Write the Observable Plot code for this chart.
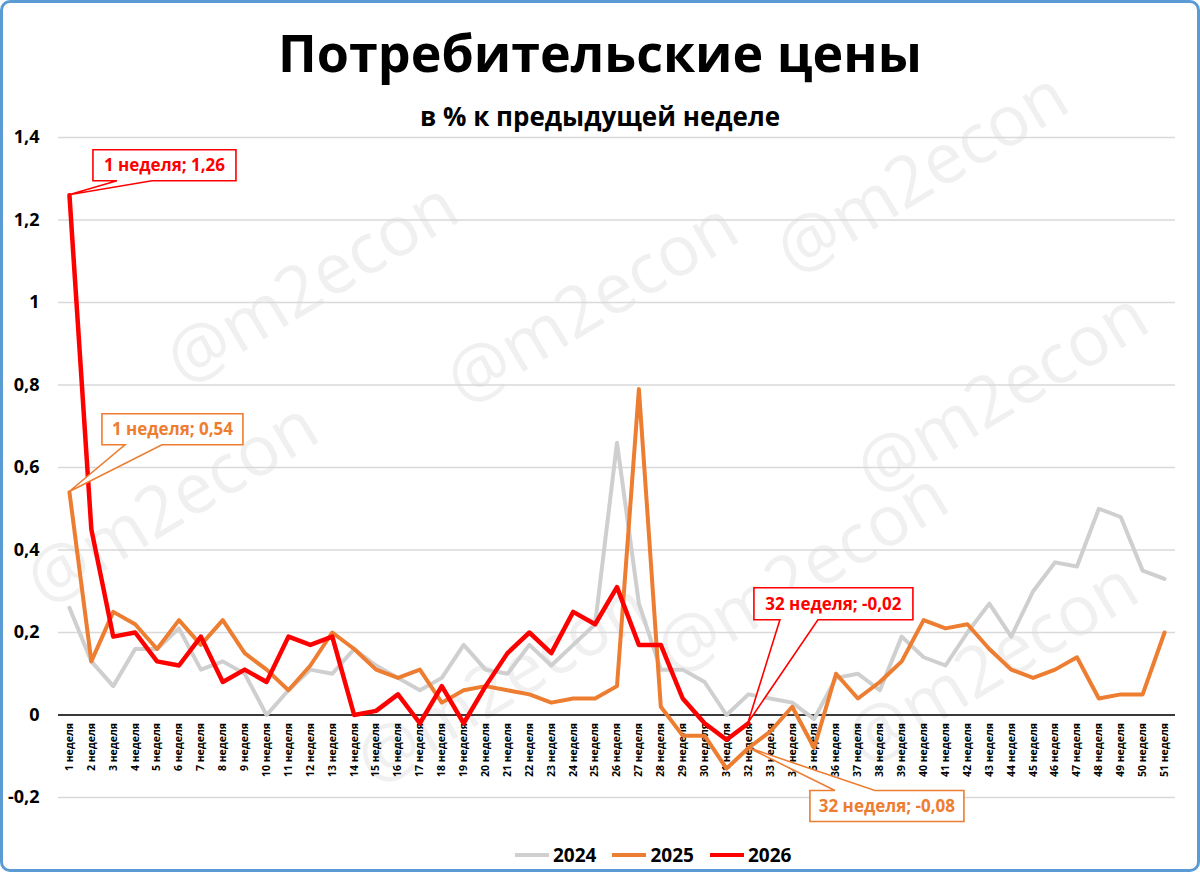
<!DOCTYPE html>
<html><head><meta charset="utf-8">
<script src="https://cdn.jsdelivr.net/npm/d3@7"></script>
<script src="https://cdn.jsdelivr.net/npm/@observablehq/plot@0.6"></script>
<style>
html,body{margin:0;padding:0;background:#fff;}
#wrap{position:relative;width:1200px;height:872px;overflow:hidden;background:#fff;font-family:"Open Sans",sans-serif;}
.wm{position:absolute;font-family:"Open Sans",sans-serif;font-size:70px;color:#f0f0f0;transform:translate(-50%,-50%) rotate(-31deg);white-space:nowrap;line-height:1;}
#title{position:absolute;left:0;width:1200px;top:26px;text-align:center;font-weight:700;font-size:52px;line-height:52px;color:#000;}
#subtitle{position:absolute;left:0;width:1200px;top:103px;text-align:center;font-weight:700;font-size:26px;line-height:26px;color:#000;}
#chart{position:absolute;left:0;top:95px;}
#legend{position:absolute;top:842px;left:515px;display:flex;align-items:center;font-weight:700;font-size:19px;line-height:26px;color:#000;}
#legend .item{display:flex;align-items:center;margin-right:16px;}
#legend .sw{width:34px;height:4px;margin-right:4px;}
#frame{position:absolute;left:0;top:0;width:1200px;height:872px;box-sizing:border-box;border:3px solid #5B9BD5;border-radius:10px;pointer-events:none;}
</style>
</head>
<body>
<div id="wrap">
  <div id="wms"></div>
  <div id="title">Потребительские цены</div>
  <div id="subtitle">в % к предыдущей неделе</div>
  <div id="chart"></div>
  <div id="legend"></div>
  <div id="frame"></div>
</div>
<script>
const weeks = ["1 неделя","2 неделя","3 неделя","4 неделя","5 неделя","6 неделя","7 неделя","8 неделя","9 неделя","10 неделя",
"11 неделя","12 неделя","13 неделя","14 неделя","15 неделя","16 неделя","17 неделя","18 неделя","19 неделя","20 неделя",
"21 неделя","22 неделя","23 неделя","24 неделя","25 неделя","26 неделя","27 неделя","28 неделя","29 неделя","30 неделя",
"31 неделя","32 неделя","33 неделя","34 неделя","35 неделя","36 неделя","37 неделя","38 неделя","39 неделя","40 неделя",
"41 неделя","42 неделя","43 неделя","44 неделя","45 неделя","46 неделя","47 неделя","48 неделя","49 неделя","50 неделя","51 неделя"];

const v2024 = [0.26,0.13,0.07,0.16,0.16,0.21,0.11,0.13,0.10,0.00,
0.06,0.11,0.10,0.16,0.12,0.09,0.06,0.09,0.17,0.11,
0.10,0.17,0.12,0.17,0.22,0.66,0.27,0.11,0.11,0.08,
0.00,0.05,0.04,0.03,-0.01,0.09,0.10,0.06,0.19,0.14,
0.12,0.20,0.27,0.19,0.30,0.37,0.36,0.50,0.48,0.35,0.33];

const v2025 = [0.54,0.13,0.25,0.22,0.16,0.23,0.17,0.23,0.15,0.11,
0.06,0.12,0.20,0.16,0.11,0.09,0.11,0.03,0.06,0.07,
0.06,0.05,0.03,0.04,0.04,0.07,0.79,0.02,-0.05,-0.05,
-0.13,-0.08,-0.04,0.02,-0.08,0.10,0.04,0.08,0.13,0.23,
0.21,0.22,0.16,0.11,0.09,0.11,0.14,0.04,0.05,0.05,0.20];

const v2026 = [1.26,0.45,0.19,0.20,0.13,0.12,0.19,0.08,0.11,0.08,
0.19,0.17,0.19,0.00,0.01,0.05,-0.02,0.07,-0.02,0.07,
0.15,0.20,0.15,0.25,0.22,0.31,0.17,0.17,0.04,-0.02,
-0.06,-0.02];

const years = ["2024","2025","2026"];
const colors = ["#CFCFCF","#ED7D31","#FF0000"];
const yTicks = [-0.2,0,0.2,0.4,0.6,0.8,1.0,1.2,1.4];

const fmt = d => String(+d.toFixed(2)).replace(".", ",");

const series = [v2024, v2025, v2026];
const rowsOf = (arr, yr) => arr.map((v,i) => ({week: weeks[i], value: v, year: yr}));

const plot = Plot.plot({
  width: 1200,
  height: 732,
  marginLeft: 58,
  marginRight: 25,
  marginTop: 42,
  marginBottom: 30,
  style: {fontFamily: "Open Sans, sans-serif", background: "transparent", overflow: "visible", color: "#000"},
  x: {type: "point", domain: weeks, padding: 0.5, axis: null},
  y: {domain: [-0.2, 1.4], axis: null},
  marks: [
    Plot.ruleY(yTicks, {stroke: "#D9D9D9", strokeWidth: 1.5}),
    Plot.ruleY([0], {stroke: "#000", strokeWidth: 1.6}),
    Plot.axisY({ticks: yTicks, tickSize: 0, tickPadding: 19, tickFormat: fmt, fontSize: 18, fontWeight: 700, label: null, fill: "#000"}),
    Plot.text(weeks, {x: d => d, y: () => 0, text: d => d, rotate: -90, textAnchor: "end", lineAnchor: "middle", dy: 8, fontSize: 10.5, fontWeight: 700, fill: "#000"}),
    ...series.map((arr, k) => Plot.line(rowsOf(arr, years[k]), {x: "week", y: "value", stroke: colors[k], strokeWidth: k === 2 ? 4.5 : 4, strokeLinejoin: "round", strokeLinecap: "round"}))
  ]
});
document.getElementById("chart").appendChild(plot);

// callouts anchored on data points through the plot's scales
const xs = plot.scale("x"), ys = plot.scale("y");
const callouts = [
  {k: 2, i: 0, box: [24, -45, 143, 31], base: [48, 83], side: "bottom"},
  {k: 1, i: 0, box: [33, -78, 141, 31], base: [56, 93], side: "bottom"},
  {k: 2, i: 31, box: [6, -135, 159, 32], base: [32, 70], side: "bottom"},
  {k: 1, i: 31, box: [62, 43, 154, 31], base: [87, 127], side: "top"}
];
const svg = d3.select(plot);
const g = svg.append("g");
callouts.forEach(c => {
  const px = xs.apply(weeks[c.i]), py = ys.apply(series[c.k][c.i]);
  const L = px + c.box[0], T = py + c.box[1], R = L + c.box[2], B = T + c.box[3];
  const b1 = px + c.base[0], b2 = px + c.base[1];
  let d;
  if (c.side === "bottom") {
    d = `M${L},${T}H${R}V${B}H${b2}L${px},${py}L${b1},${B}H${L}Z`;
  } else {
    d = `M${L},${T}H${b1}L${px},${py}L${b2},${T}H${R}V${B}H${L}Z`;
  }
  g.append("path").attr("d", d).attr("fill", "#fff").attr("stroke", colors[c.k]).attr("stroke-width", 1.6).attr("stroke-linejoin", "miter");
  g.append("text").attr("x", (L + R) / 2).attr("y", (T + B) / 2).attr("dy", "0.36em")
    .attr("text-anchor", "middle").attr("fill", colors[c.k])
    .style("font-family", "Open Sans, sans-serif").style("font-weight", 700).style("font-size", "17px")
    .text(`${weeks[c.i]}; ${fmt(series[c.k][c.i])}`);
});

// legend
const lg = document.getElementById("legend");
years.forEach((y, k) => {
  const it = document.createElement("div"); it.className = "item";
  const sw = document.createElement("div"); sw.className = "sw"; sw.style.background = colors[k];
  const tx = document.createElement("span"); tx.textContent = y;
  it.appendChild(sw); it.appendChild(tx); lg.appendChild(it);
});

// watermarks
const wmText = "@m2econ";
const wmPos = [[310,280],[590,300],[920,170],[1000,390],[170,500],[500,680],[800,570],[990,660]];
const wms = document.getElementById("wms");
wmPos.forEach(([x,y]) => {
  const d = document.createElement("div"); d.className = "wm";
  d.style.left = x + "px"; d.style.top = y + "px"; d.textContent = wmText;
  wms.appendChild(d);
});
</script>
</body></html>
